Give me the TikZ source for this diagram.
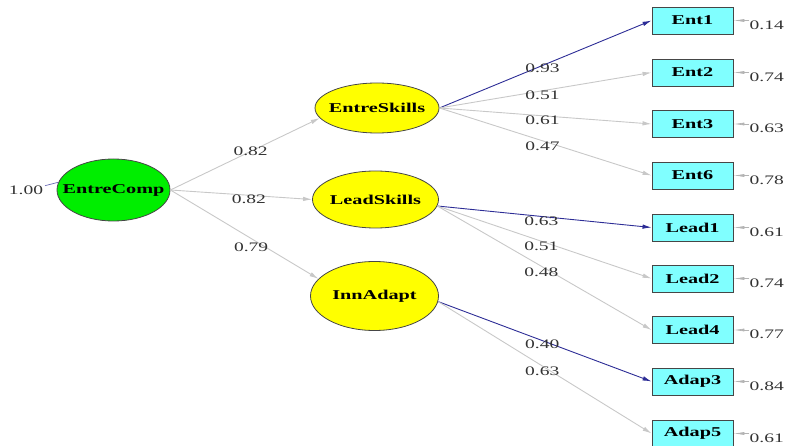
\documentclass[tikz,border=0pt]{standalone}
\usepackage{fontspec}
\setmainfont{Liberation Serif}[FakeStretch=1.5]
\usetikzlibrary{arrows.meta,shapes.geometric}
\definecolor{edgegrey}{RGB}{200,200,200}
\definecolor{edgeblue}{RGB}{45,45,150}
\definecolor{boxcyan}{RGB}{128,255,255}
\definecolor{latgreen}{RGB}{0,238,0}
\definecolor{latyellow}{RGB}{255,255,0}
\definecolor{outline}{RGB}{70,70,70}
\newcommand{\ztext}[1]{\makebox[0pt][c]{#1}}
\tikzset{
  latent/.style={ellipse, draw=outline, line width=0.8pt, inner sep=0pt, font=\fontsize{13.5}{15}\selectfont\bfseries},
  manifest/.style={rectangle, draw=outline, line width=0.9pt, fill=boxcyan, inner sep=0pt,
    minimum width=81pt, minimum height=27pt, font=\fontsize{13.5}{15}\selectfont\bfseries},
  lab/.style={font=\fontsize{13}{15}\selectfont, text=black!80, inner sep=0pt},
  greyedge/.style={draw=edgegrey, line width=0.9pt, -{Latex[length=9pt,width=4.5pt]}},
  blueedge/.style={draw=edgeblue, line width=0.9pt, -{Latex[length=9pt,width=4.5pt]}},
  resid/.style={draw=edgegrey!90!black, line width=0.6pt, -{Latex[length=11pt,width=3pt]}},
}
\begin{document}
\begin{tikzpicture}[x=1pt,y=-1pt]
\useasboundingbox (0,0) rectangle (786,446);

% latent variables
\node[latent, fill=latgreen, minimum width=113pt, minimum height=62pt] (EntreComp) at (113.5,190) {\ztext{EntreComp}};
\node[latent, fill=latyellow, minimum width=124pt, minimum height=50pt] (EntreSkills) at (377,108) {\ztext{EntreSkills}};
\node[latent, fill=latyellow, minimum width=126pt, minimum height=57pt] (LeadSkills) at (375.5,199.5) {\ztext{LeadSkills}};
\node[latent, fill=latyellow, minimum width=128pt, minimum height=69pt] (InnAdapt) at (374.5,296) {\ztext{InnAdapt}};

% manifest variables
\node[manifest] (Ent1) at (692.5,20.5) {Ent1};
\node[manifest] (Ent2) at (692.5,72.5) {Ent2};
\node[manifest] (Ent3) at (692.5,124) {Ent3};
\node[manifest] (Ent6) at (692.5,175.5) {Ent6};
\node[manifest] (Lead1) at (692.5,227.5) {Lead1};
\node[manifest] (Lead2) at (692.5,278.5) {Lead2};
\node[manifest] (Lead4) at (692.5,330) {Lead4};
\node[manifest] (Adap3) at (692.5,381.5) {Adap3};
\node[manifest] (Adap5) at (692.5,433.5) {Adap5};

% second-order loadings
\draw[greyedge] (EntreComp.east) -- node[lab, pos=0.537] {0.82} (EntreSkills.190);
\draw[greyedge] (EntreComp.east) -- node[lab, pos=0.554, yshift=-4pt] {0.82} (LeadSkills.west);
\draw[greyedge] (EntreComp.east) -- node[lab, pos=0.545, yshift=-9pt] {0.79} (InnAdapt.163);

% first-order loadings
\draw[blueedge] (EntreSkills.east) -- node[lab, pos=0.486, yshift=-3pt] {0.93} (Ent1.west);
\draw[greyedge] (EntreSkills.east) -- node[lab, pos=0.486, yshift=-5pt] {0.51} (Ent2.west);
\draw[greyedge] (EntreSkills.east) -- node[lab, pos=0.486, yshift=-4pt] {0.61} (Ent3.west);
\draw[greyedge] (EntreSkills.east) -- node[lab, pos=0.486, yshift=-5pt] {0.47} (Ent6.west);

\draw[blueedge] (LeadSkills.-6) -- node[lab, pos=0.486, yshift=-5pt] {0.63} (Lead1.west);
\draw[greyedge] (LeadSkills.-6) -- node[lab, pos=0.486, yshift=-5pt] {0.51} (Lead2.west);
\draw[greyedge] (LeadSkills.-6) -- node[lab, pos=0.486, yshift=-6pt] {0.48} (Lead4.west);

\draw[blueedge] (InnAdapt.-5) -- node[lab, pos=0.488, yshift=-4pt] {0.40} (Adap3.west);
\draw[greyedge] (InnAdapt.-5) -- node[lab, pos=0.488, yshift=-5pt] {0.63} (Adap5.west);

% residuals
\foreach \v/\r in {Ent1/0.14, Ent2/0.74, Ent3/0.63, Ent6/0.78, Lead1/0.61, Lead2/0.74, Lead4/0.77, Adap3/0.84, Adap5/0.61}{
  \node[lab, anchor=west] (r\v) at ([xshift=16pt,yshift=-4.5pt]\v.east) {\r};
  \draw[resid] (\v.east -| r\v.west) -- (\v.east);
}

% variance of EntreComp
\node[lab] (vEC) at (26,190) {1.00};
\coordinate (vECend) at (45,185.7);
\draw[draw=edgeblue!70, line width=0.7pt] (vECend) -- (EntreComp.172);
\end{tikzpicture}
\end{document}
